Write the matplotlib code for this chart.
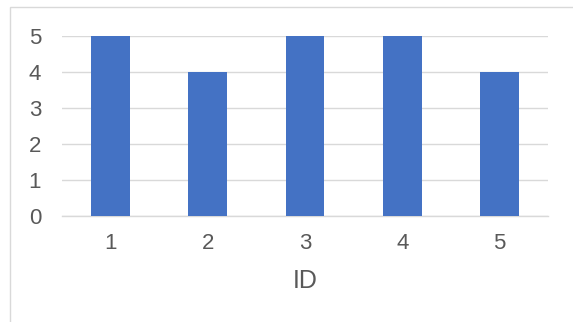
import matplotlib
matplotlib.use("Agg")
import matplotlib.pyplot as plt
from matplotlib.patches import Rectangle

ids = ["1", "2", "3", "4", "5"]
values = [5, 4, 5, 5, 4]
yticks = [0, 1, 2, 3, 4, 5]

plt.rcParams['font.family'] = ['Liberation Sans', 'DejaVu Sans']
W, H = 573, 322
fig = plt.figure(figsize=(W/100, H/100), dpi=100)
fig.patch.set_facecolor('white')

# figure border (left/top visible)
fig.add_artist(Rectangle((10/W, -0.1), 1.2, (H - 7)/H + 0.1, transform=fig.transFigure,
                         fill=False, edgecolor='#D9D9D9', linewidth=1.0))

left, right = 62/W, 548/W
top, bottom = 1 - 36/H, 1 - 216/H
ax = fig.add_axes([left, bottom, right - left, top - bottom])
x = list(range(len(ids)))
ax.bar(x, values, width=0.4, color='#4472C4', zorder=3)
ax.set_xlim(-0.5, len(ids) - 0.5)
ax.set_ylim(0, 5)
ax.set_yticks(yticks)
ax.set_xticks(x)
ax.set_xticklabels(ids)
ax.grid(axis='y', color='#D9D9D9', linewidth=1.0, zorder=0)
for s in ['top', 'right', 'left']:
    ax.spines[s].set_visible(False)
ax.spines['bottom'].set_color('#D9D9D9')
ax.spines['bottom'].set_linewidth(1.0)
ax.tick_params(axis='both', length=0, labelsize=16, colors='#595959')
ax.tick_params(axis='x', pad=12)
ax.tick_params(axis='y', pad=15)
ax.set_xlabel('ID', fontsize=18, color='#595959', labelpad=11)

fig.savefig('out.png', dpi=100)
